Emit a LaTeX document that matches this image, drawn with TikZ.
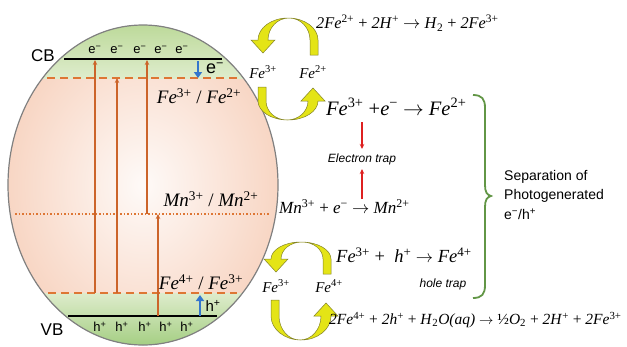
\documentclass[tikz,border=0pt]{standalone}
\usepackage{fontspec}
\setmainfont{Liberation Serif}
\setsansfont{Liberation Sans}
\usetikzlibrary{arrows.meta}
\definecolor{orng}{RGB}{204,100,42}
\definecolor{dorng}{RGB}{222,118,52}
\definecolor{blu}{RGB}{52,118,205}
\definecolor{grn}{RGB}{98,150,70}
\definecolor{ylw}{RGB}{228,228,22}
\definecolor{olv}{RGB}{130,130,40}
\definecolor{pk}{RGB}{248,214,196}
\definecolor{pkc}{RGB}{254,250,248}
\definecolor{gtop}{RGB}{186,216,150}
\definecolor{glow}{RGB}{222,236,204}
\definecolor{gbot}{RGB}{164,206,130}
\definecolor{redA}{RGB}{222,32,32}
\newcommand\fs[1]{\fontsize{#1}{#1}\selectfont}
\newcommand\ion[2]{\textit{#1}\textsuperscript{#2}}
\newcommand\yarr[6]{%
\pgfmathsetmacro\ya{-#4}\pgfmathsetmacro\yb{-#4-0.552*#5}%
\pgfmathsetmacro\yc{-#4-#5}\pgfmathsetmacro\yt{-#4+13}\pgfmathsetmacro\ye{-#6}%
\begin{scope}[shift={(#1,#2)},rotate=#3]
\filldraw[fill=ylw,draw=olv,line width=0.5pt]
 (30,\ye) -- (30,\ya) .. controls (30,\yb) and (16.6,\yc) .. (0,\yc)
 .. controls (-16.6,\yc) and (-30,\yb) .. (-30,\ya)
 -- (-37,\ya) -- (-25,\yt) -- (-13,\ya) -- (-20,\ya)
 .. controls (-20,\yb) and (-10.6,\yc) .. (1,\yc)
 .. controls (12.6,\yc) and (22,\yb) .. (22,\ya)
 -- (22,\ye) -- cycle;
\end{scope}}
\begin{document}
\begin{tikzpicture}[x=1pt,y=-1pt,
  lvl/.style={draw=dorng,line width=1.8pt,dash pattern=on 8pt off 5pt},
  exc/.style={draw=orng,line width=1.4pt,-{Stealth[length=5pt,width=4.5pt]}},
  bl/.style={draw=blu,line width=2.8pt,-{Triangle[length=6pt,width=8pt]}},
  rd/.style={draw=redA,line width=1.4pt,-{Stealth[length=5pt,width=4.5pt]}},
  sflab/.style={font=\sffamily\fs{13},inner sep=0pt},
  eqn/.style={inner sep=0pt,anchor=west},
  trap/.style={font=\sffamily\itshape\fs{12},inner sep=0pt}]
\useasboundingbox (0,0) rectangle (627,346);
% particle
\path[inner color=pkc,outer color=pk] (143,185) ellipse[x radius=135,y radius=160];
\begin{scope}
\clip (143,185) ellipse[x radius=135,y radius=160];
\fill[top color=gtop,bottom color=glow] (0,20) rectangle (290,78);
\fill[top color=glow,bottom color=gbot] (0,293) rectangle (290,346);
\end{scope}
\draw[gray,line width=1.2pt] (143,185) ellipse[x radius=135,y radius=160];
% levels
\coordinate (cbL) at (64,59); \coordinate (cbR) at (222,59);
\coordinate (vbL) at (68,316); \coordinate (vbR) at (217,316);
\draw[black,line width=1.6pt] (cbL) -- (cbR);
\draw[black,line width=1.6pt] (vbL) -- (vbR);
\coordinate (feuL) at (47,78); \coordinate (feuR) at (240,78);
\coordinate (felL) at (48,293); \coordinate (felR) at (237,293);
\coordinate (mnL) at (15,214); \coordinate (mnR) at (270,214);
\draw[lvl] (feuL) -- (feuR);
\draw[lvl] (felL) -- (felR);
\draw[dorng,line width=1.6pt,dash pattern=on 1.6pt off 1.9pt] (mnL) -- (mnR);
% excitation arrows
\coordinate (a1s) at (95,293); \coordinate (a1e) at (95,60);
\coordinate (a2s) at (117,293); \coordinate (a2e) at (117,78);
\coordinate (a3s) at (147,214); \coordinate (a3e) at (147,60);
\coordinate (a4s) at (158,316); \coordinate (a4e) at (158,214);
\draw[exc] (a1s) -- (a1e);
\draw[exc] (a2s) -- (a2e);
\draw[exc] (a3s) -- (a3e);
\draw[exc] (a4s) -- (a4e);
\coordinate (b1s) at (198,61); \coordinate (b1e) at (198,78);
\coordinate (b2s) at (200,316); \coordinate (b2e) at (200,295);
\draw[bl] (b1s) -- (b1e);
\draw[bl] (b2s) -- (b2e);
% labels in particle
\node[font=\sffamily\fs{17},inner sep=0pt] (cb) at (43,56) {CB};
\node[font=\sffamily\fs{17},inner sep=0pt] (vb) at (52,330) {VB};
\foreach \x/\n in {95/1,117/2,140/3,161/4,182/5}{
  \node[sflab] (e\n) at (\x,50) {e\textsuperscript{−}};
  \node[sflab] (h\n) at (\x+5,327) {h\textsuperscript{+}};}
\node[font=\sffamily\fs{18},inner sep=0pt] (ebig) at (215,68) {e\textsuperscript{−}};
\node[font=\sffamily\fs{15},inner sep=0pt] (hbig) at (213,306) {h\textsuperscript{+}};
\node[inner sep=0pt,font=\fs{19}] (lfe1) at (199,96) {\ion{Fe}{3+} / \ion{Fe}{2+}};
\node[inner sep=0pt,font=\fs{19}] (lmn) at (211,199) {\ion{Mn}{3+} / \ion{Mn}{2+}};
\node[inner sep=0pt,font=\fs{19}] (lfe2) at (201,282) {\ion{Fe}{4+} / \ion{Fe}{3+}};
% redox cycles
\yarr{288}{72}{0}{32}{22}{17}
\yarr{288}{72}{180}{29}{19}{15}
\yarr{301}{286}{0}{27}{17}{12}
\yarr{301}{286}{180}{30}{24}{14}
\node[inner sep=0pt,font=\fs{15}] (c1a) at (263,72) {\ion{Fe}{3+}};
\node[inner sep=0pt,font=\fs{15}] (c1b) at (313,72) {\ion{Fe}{2+}};
\node[inner sep=0pt,font=\fs{15}] (c2a) at (276,286) {\ion{Fe}{3+}};
\node[inner sep=0pt,font=\fs{15}] (c2b) at (329,286) {\ion{Fe}{4+}};
% equations
\node[eqn,font=\fs{16.3}] (eq1) at (316,23) {\ion{2Fe}{2+} + \ion{2H}{+} $\rightarrow$ \textit{H}\textsubscript{2} + \ion{2Fe}{3+}};
\node[eqn,font=\fs{20.5}] (eq2) at (326,107) {\ion{Fe}{3+} +\ion{e}{−} $\rightarrow$ \ion{Fe}{2+}};
\node[trap] (etrap) at (362,159) {Electron trap};
\node[eqn,font=\fs{17}] (eq3) at (279,207) {\ion{Mn}{3+} + \ion{e}{−} $\rightarrow$ \ion{Mn}{2+}};
\node[eqn,font=\fs{18.5}] (eq4) at (336,255) {\ion{Fe}{3+} + ~\ion{h}{+} $\rightarrow$ \ion{Fe}{4+}};
\node[trap] (htrap) at (443,284) {hole trap};
\node[eqn,font=\fs{15.5}] (eq5) at (329,320) {\ion{2Fe}{4+} + \ion{2h}{+} + \textit{H}\textsubscript{2}\textit{O(aq)} $\rightarrow$ ½\textit{O}\textsubscript{2} + \ion{2H}{+} + \ion{2Fe}{3+}};
% red arrows
\coordinate (r1s) at (362,122); \coordinate (r2s) at (362,199);
\draw[rd] (r1s) -- (etrap.north |- 0,149);
\draw[rd] (r2s) -- (etrap.south |- 0,169);
% brace
\draw[grn,line width=1.8pt] (473,95) .. controls (482,95) and (485,99) .. (485,108)
  -- (485,185) .. controls (485,192) and (487,195) .. (491,196)
  .. controls (487,197) and (485,200) .. (485,207)
  -- (485,285) .. controls (485,294) and (482,298) .. (473,298);
\node[anchor=north west,align=left,inner sep=0pt,font=\sffamily\fontsize{14}{19.5}\selectfont] (sep) at (504,170) {Separation of\\Photogenerated\\e\textsuperscript{−}/h\textsuperscript{+}};
\end{tikzpicture}
\end{document}
